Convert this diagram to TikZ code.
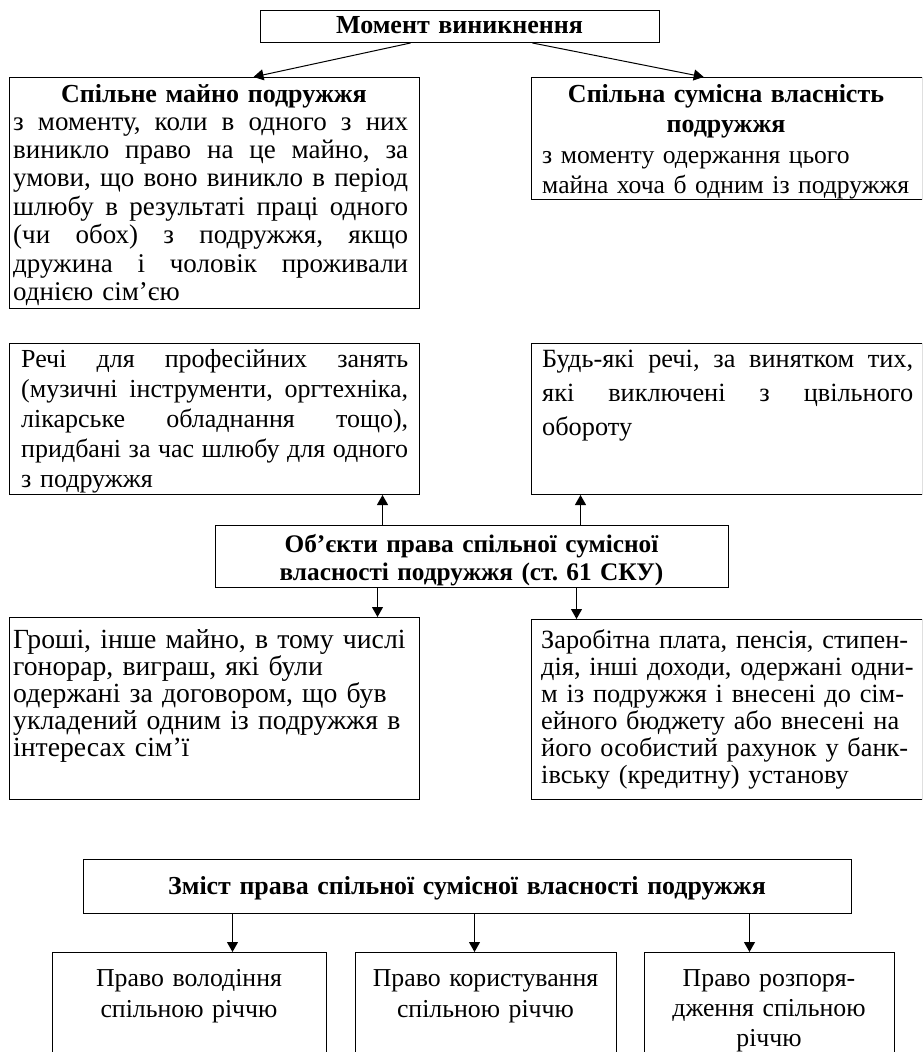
\documentclass[tikz,border=0pt]{standalone}
\usepackage{fontspec}
\setmainfont{Liberation Serif}
\usetikzlibrary{arrows.meta, positioning}

% a line spread over the full width of its box
\newcommand{\jline}[2][395pt]{\leavevmode\hbox to #1{\spaceskip=0.25em plus 1fil\relax #2}}

\begin{document}
\frenchspacing
\begin{tikzpicture}[
  x=1pt, y=-1pt,
  every node/.style={font=\fontsize{27}{28.4}\selectfont},
  box/.style={draw, line width=1pt, anchor=north west, inner sep=0pt},
  txt/.style={inner sep=0pt, anchor=base west, align=left},
  head/.style={inner sep=0pt, anchor=base, align=center, font=\fontsize{26}{28}\selectfont\bfseries},
  arrow/.style={-{Triangle[length=10pt, width=11pt]}, line width=1pt},
]
\clip (0,0) rectangle (922,1052);

% Moment of origin
\node[box, minimum width=399pt, minimum height=32pt] (moment) at (260,10) {};
\node[head, text width=390pt] (momenttext) at (459.5,33) {Момент виникнення};

\node[box, minimum width=410pt, minimum height=231pt] (spilne) at (9,77) {};
\node[head, text width=400pt] (spilnehead) at (214,102) {Спільне майно подружжя};
\node[txt, text width=395pt] (spilnetext) at (13,130) {%
  \jline{з моменту, коли в одного з них}\\
  \jline{виникло право на це майно, за}\\
  \jline{умови, що воно виникло в період}\\
  \jline{шлюбу в результаті праці одного}\\
  \jline{(чи обох) з подружжя, якщо}\\
  \jline{дружина і чоловік проживали}\\
  однією сім’єю};

\node[box, minimum width=390.5pt, minimum height=122pt] (vlasnist) at (531,77) {};
\node[head, text width=380pt, font=\fontsize{26}{30}\selectfont\bfseries] (vlasnisthead) at (726,102) {Спільна сумісна власність\\подружжя};
\node[txt, text width=385pt, font=\fontsize{25.6}{30}\selectfont] (vlasnisttext) at (542,163) {%
  з моменту одержання цього\\
  майна хоча б одним із подружжя};

\draw[arrow] ([xshift=-49.5pt]moment.south) -- ([xshift=39pt]spilne.north);
\draw[arrow] ([xshift=72.5pt]moment.south) -- ([xshift=-23pt]vlasnist.north);

% Objects of the joint property
\node[box, minimum width=410pt, minimum height=151pt] (rechi) at (9,343) {};
\node[txt, text width=387pt, font=\fontsize{26}{30}\selectfont] (rechitext) at (21,367) {%
  \jline[387pt]{Речі для професійних занять}\\
  \jline[387pt]{(музичні інструменти, оргтехніка,}\\
  \jline[387pt]{лікарське обладнання тощо),}\\
  \jline[387pt]{придбані за час шлюбу для одного}\\
  з подружжя};

\node[box, minimum width=390.5pt, minimum height=151pt] (budyaki) at (531,343) {};
\node[txt, text width=371pt, font=\fontsize{26.3}{34}\selectfont] (budyakitext) at (542,367) {%
  \jline[371pt]{Будь-які речі, за винятком тих,}\\
  \jline[371pt]{які виключені з цвільного}\\
  обороту};

\node[box, minimum width=513pt, minimum height=62pt] (obiekty) at (215,525) {};
\node[head, text width=500pt, font=\fontsize{25.3}{28}\selectfont\bfseries] (obiektytext) at (471.5,552) {Об’єкти права спільної сумісної\\власності подружжя (ст. 61 СКУ)};

\node[box, minimum width=410pt, minimum height=182pt] (groshi) at (9,617) {};
\node[txt, text width=400pt, font=\fontsize{27.7}{27}\selectfont] (groshitext) at (13,648) {%
  Гроші, інше майно, в тому числі\\
  гонорар, виграш, які були\\
  одержані за договором, що був\\
  укладений одним із подружжя в\\
  інтересах сім’ї};

\node[box, minimum width=390.5pt, minimum height=180pt] (zarobitna) at (531,619) {};
\node[txt, text width=385pt, font=\fontsize{26.3}{27}\selectfont] (zarobitnatext) at (541,648) {%
  Заробітна плата, пенсія, стипен-\\
  дія, інші доходи, одержані одни-\\
  м із подружжя і внесені до сім-\\
  ейного бюджету або внесені на\\
  його особистий рахунок у банк-\\
  івську (кредитну) установу};

\draw[arrow] ([xshift=-89.5pt]obiekty.north) -- ([xshift=-89.5pt]obiekty.north |- rechi.south);
\draw[arrow] ([xshift=108.5pt]obiekty.north) -- ([xshift=108.5pt]obiekty.north |- budyaki.south);
\draw[arrow] ([xshift=-94.5pt]obiekty.south) -- ([xshift=-94.5pt]obiekty.south |- groshi.north);
\draw[arrow] ([xshift=104.5pt]obiekty.south) -- ([xshift=104.5pt]obiekty.south |- zarobitna.north);

% Content of the right
\node[box, minimum width=768pt, minimum height=54pt] (zmist) at (83,859) {};
\node[head, text width=760pt, font=\fontsize{25.9}{28}\selectfont\bfseries] (zmisttext) at (467,894) {Зміст права спільної сумісної власності подружжя};

\node[box, minimum width=274pt, minimum height=130pt] (volodinnya) at (52,952) {};
\node[head, text width=270pt, font=\fontsize{25.8}{31}\selectfont] (volodinnyatext) at (189,986) {Право володіння\\спільною річчю};

\node[box, minimum width=261pt, minimum height=130pt] (korystuvannya) at (355,952) {};
\node[head, text width=255pt, font=\fontsize{25.8}{31}\selectfont] (korystuvannyatext) at (485.5,986) {Право користування\\спільною річчю};

\node[box, minimum width=250pt, minimum height=130pt] (rozporyad) at (644,952) {};
\node[head, text width=245pt, font=\fontsize{25.8}{30}\selectfont] (rozporyadtext) at (769,986) {Право розпоря-\\дження спільною\\річчю};

\draw[arrow] ([xshift=-235pt]zmist.south) -- ([xshift=-235pt]zmist.south |- volodinnya.north);
\draw[arrow] ([xshift=7pt]zmist.south) -- ([xshift=7pt]zmist.south |- korystuvannya.north);
\draw[arrow] ([xshift=282pt]zmist.south) -- ([xshift=282pt]zmist.south |- rozporyad.north);

\end{tikzpicture}
\end{document}
